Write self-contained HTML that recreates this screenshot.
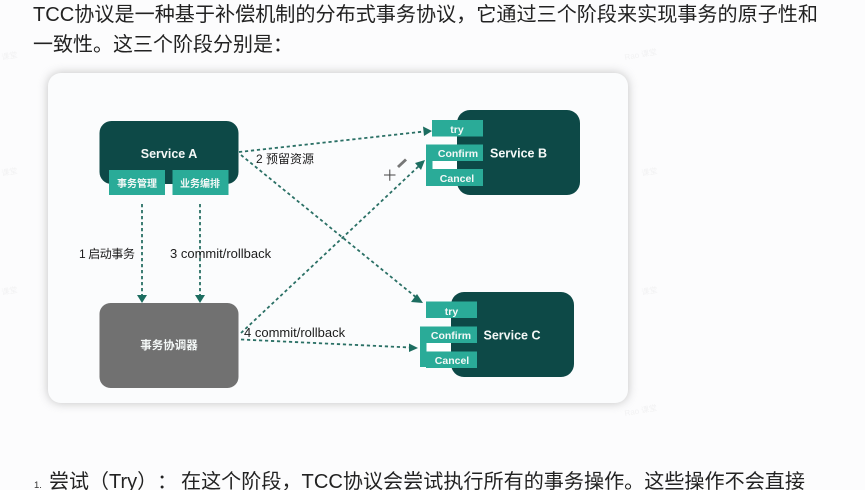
<!DOCTYPE html>
<html lang="zh">
<head>
<meta charset="utf-8">
<title>TCC</title>
<style>
html,body{margin:0;padding:0;background:#fcfcfd}
body{width:865px;height:490px;overflow:hidden;position:relative}
svg{position:absolute;left:0;top:0;display:block}
text{font-family:"Liberation Sans","Noto Sans CJK SC",sans-serif;text-spacing-trim:space-all}
.p{font-size:20px;fill:#222}
.w{fill:#f4f8f7;font-weight:700;text-anchor:middle}
.l{fill:#1c1c1c}
.d{stroke:#2a6f65;stroke-width:1.8;stroke-dasharray:3.2 2.8;fill:none}
.a{fill:#1f6d60}
.g{fill:#2bab98}
.s{fill:#0e4a47}
.m{fill:#f2f2f3;font-size:8px}
</style>
</head>
<body>
<svg width="865" height="490" viewBox="0 0 865 490" xmlns="http://www.w3.org/2000/svg">
<defs>
<filter id="sh" x="-5%" y="-8%" width="110%" height="116%"><feGaussianBlur stdDeviation="5"/></filter>
<filter id="soft" x="0" y="0" width="100%" height="100%"><feGaussianBlur stdDeviation="0.35"/></filter>
</defs>
<g filter="url(#soft)">
<rect width="865" height="490" fill="#fcfcfd"/>
<text class="m" x="625" y="60" transform="rotate(-10 625 60)">Rao 课堂</text>
<text class="m" x="642" y="176" transform="rotate(-10 642 176)">课堂</text>
<text class="m" x="642" y="295" transform="rotate(-10 642 295)">课堂</text>
<text class="m" x="625" y="416" transform="rotate(-10 625 416)">Rao 课堂</text>
<text class="m" x="2" y="60" transform="rotate(-10 2 60)">课堂</text>
<text class="m" x="2" y="176" transform="rotate(-10 2 176)">课堂</text>
<text class="m" x="2" y="295" transform="rotate(-10 2 295)">课堂</text>
<text class="p" x="33" y="21" textLength="785" lengthAdjust="spacingAndGlyphs">TCC协议是一种基于补偿机制的分布式事务协议，它通过三个阶段来实现事务的原子性和</text>
<text class="p" x="33" y="51">一致性。这三个阶段分别是：</text>

<rect x="48" y="73" width="580" height="330" rx="13" fill="#9a9a9a" opacity=".6" filter="url(#sh)"/>
<rect x="48" y="73" width="580" height="330" rx="13" fill="#fbfcfd"/>

<!-- Service A -->
<rect x="99.500" y="121" width="139" height="63" rx="12" class="s"/>
<rect x="109" y="170" width="56" height="25" class="g"/>
<rect x="172.500" y="170" width="56" height="25" class="g"/>
<text class="w" x="169" y="158" font-size="12.500">Service A</text>
<text class="w" x="137" y="187" font-size="10">事务管理</text>
<text class="w" x="200" y="187" font-size="10">业务编排</text>

<!-- Coordinator -->
<rect x="99.500" y="303" width="139" height="85" rx="11" fill="#717171"/>
<text class="w" x="169" y="349" font-size="11.500">事务协调器</text>

<!-- Service B -->
<rect x="457" y="110" width="123" height="85" rx="13" class="s"/>
<rect x="432" y="120" width="51" height="16.500" class="g"/>
<rect x="426" y="144.500" width="57" height="16.500" class="g"/>
<rect x="426" y="169" width="57" height="17" class="g"/>
<rect x="426" y="145" width="6.500" height="40" class="g"/>
<rect x="432.500" y="161" width="24.500" height="8" fill="#fff"/>
<text class="w" x="457" y="133" font-size="10.500">try</text>
<text class="w" x="458" y="157" font-size="10.500">Confirm</text>
<text class="w" x="457" y="182" font-size="10.500">Cancel</text>
<text class="w" x="518.500" y="157.500" font-size="12.500">Service B</text>

<!-- Service C -->
<rect x="451" y="292" width="123" height="85" rx="13" class="s"/>
<rect x="426" y="301.500" width="51" height="16.500" class="g"/>
<rect x="420" y="326.500" width="57" height="16.500" class="g"/>
<rect x="426" y="351.500" width="51" height="16.500" class="g"/>
<rect x="420" y="327" width="6.500" height="40" class="g"/>
<rect x="426.500" y="343" width="24.500" height="8" fill="#fff"/>
<text class="w" x="451.500" y="315" font-size="10.500">try</text>
<text class="w" x="451" y="339" font-size="10.500">Confirm</text>
<text class="w" x="452" y="364" font-size="10.500">Cancel</text>
<text class="w" x="512" y="339.500" font-size="12.500">Service C</text>

<!-- Connectors -->
<line class="d" x1="142" y1="204" x2="142" y2="296"/>
<polygon class="a" points="137,295 147,295 142,303"/>
<line class="d" x1="200" y1="204" x2="200" y2="296"/>
<polygon class="a" points="195,295 205,295 200,303"/>
<line class="d" x1="239" y1="152" x2="424" y2="131.500"/>
<polygon class="a" points="432,131 423,126.500 424,136"/>
<line class="d" x1="241" y1="155" x2="417" y2="298"/>
<polygon class="a" points="423,303 417,294 411,302"/>
<line class="d" x1="241" y1="333" x2="420" y2="165"/>
<polygon class="a" points="425,160 415,163 421,170"/>
<line class="d" x1="241" y1="339.500" x2="410" y2="347.500"/>
<polygon class="a" points="418,348 409,343.500 409,352"/>

<!-- Labels -->
<text class="l" x="256" y="163" font-size="12" textLength="58">2 预留资源</text>
<text class="l" x="79" y="258" font-size="12" textLength="56">1 启动事务</text>
<text class="l" x="170" y="258" font-size="13">3 commit/rollback</text>
<text class="l" x="244" y="337" font-size="13">4 commit/rollback</text>

<!-- Cursor and pencil -->
<path d="M384 175H395.500M389.800 169.500V180.800" stroke="#444" stroke-width="1" fill="none"/>
<polygon points="397,166 405,158.500 407,160.500 399,168" fill="#777"/>

<!-- Bottom line -->
<text x="34" y="488" font-size="9.500" fill="#333">1.</text>
<text class="p" x="49" y="488">尝试（Try）：</text>
<text class="p" x="181" y="488" textLength="624" lengthAdjust="spacingAndGlyphs">在这个阶段，TCC协议会尝试执行所有的事务操作。这些操作不会直接</text>
</g>
</svg>
</body>
</html>
